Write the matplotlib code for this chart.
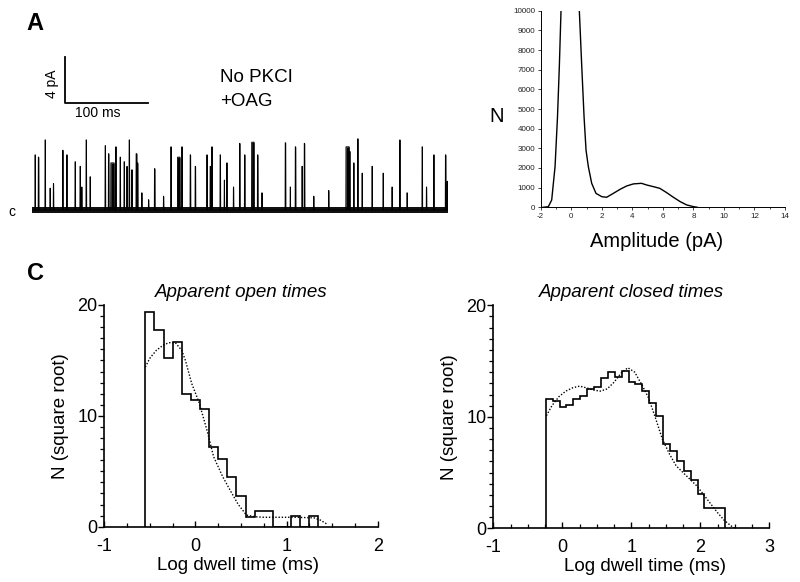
import numpy as np
import matplotlib.pyplot as plt
from matplotlib.ticker import MultipleLocator

plt.rcParams['font.family'] = ['Liberation Sans', 'DejaVu Sans']
plt.rcParams['axes.unicode_minus'] = False

# panel A: openings (start ms, amplitude pA, duration ms)
event_t = [3.2, 7.2, 15.3, 21.3, 25.3, 36.5, 41.4, 51.4, 57.4, 59.4, 64.7, 69.5,
           87.6, 91.6, 94.5, 100.4, 105.6, 110.4, 113.7, 116.5, 119.7, 124.9, 126.5,
           131.7, 139.8, 147.0, 157.8, 166.7, 174.8, 179.9, 190.0, 196.0, 210.0,
           214.0, 216.0, 226.0, 231.0, 234.0, 242.0, 249.4, 255.4, 264.0, 271.0,
           276.3, 304.4, 310.4, 316.5, 324.5, 327.3, 338.6, 356.6, 377.5, 381.9,
           386.7, 391.6, 396.8, 408.8, 422.1, 432.9, 442.2, 451.0, 469.1, 474.3,
           483.1, 497.2, 499.2]
event_amp = [4.8, 4.6, 6.1, 1.9, 2.3, 5.2, 4.8, 4.2, 3.8, 2.0, 6.1, 2.9,
             5.6, 4.9, 4.1, 5.5, 4.6, 4.2, 3.8, 6.1, 3.5, 4.9, 4.1,
             1.5, 0.9, 3.6, 1.2, 5.5, 4.6, 5.5, 4.8, 3.8, 4.8,
             3.8, 5.5, 4.8, 2.6, 4.1, 2.0, 5.8, 4.8, 5.9, 4.8,
             1.5, 5.85, 2.0, 5.5, 3.8, 5.8, 1.2, 1.7, 5.5, 5.1,
             4.1, 6.2, 3.2, 3.8, 3.2, 2.0, 6.1, 1.5, 5.5, 2.0,
             4.8, 4.8, 2.5]
event_dur = [0.6, 0.6, 0.6, 0.4, 0.4, 0.6, 0.6, 0.6, 0.6, 0.4, 0.6, 0.4,
             0.6, 0.6, 4.0, 0.6, 0.6, 0.6, 0.6, 0.6, 0.6, 1.0, 0.6,
             0.4, 0.4, 0.6, 0.4, 0.6, 3.0, 0.6, 0.6, 0.6, 0.6,
             0.6, 0.6, 0.6, 0.4, 0.6, 0.4, 0.6, 0.6, 3.0, 0.6,
             0.4, 0.6, 0.4, 0.6, 0.6, 0.6, 0.4, 0.4, 4.0, 0.6,
             0.6, 0.6, 0.6, 0.6, 0.6, 0.4, 0.6, 0.4, 0.6, 0.4,
             0.6, 0.6, 0.4]

# panel B: all-points amplitude histogram
amp_x = [-1.85, -1.5, -1.28, -1.06, -0.9, -0.78, -0.67, -0.3, 0.0, 0.3, 0.53, 0.69,
         0.84, 0.97, 1.12, 1.34, 1.62, 2.0, 2.32, 2.76, 3.2, 3.63, 4.07, 4.6, 4.94,
         5.38, 5.8, 6.25, 6.69, 7.13, 7.56, 8.0, 8.26]
amp_n = [0, 30, 370, 2070, 4600, 7150, 10000, 40000, 60000, 40000, 10000, 7150,
         4600, 2900, 2070, 1220, 710, 540, 510, 710, 915, 1085, 1190, 1220, 1135,
         1050, 965, 745, 510, 290, 120, 35, 0]

# panel C: dwell time histograms (square root of counts, 0.1 log-unit bins)
open_edges = np.round(np.arange(-0.55, 1.36, 0.1), 2)
open_sqrt_n = [19.4, 17.75, 15.2, 16.7, 12.0, 11.4, 10.6, 7.2, 6.1, 4.5, 2.8, 0.9,
               1.4, 1.4, 0, 0, 1.0, 0, 1.0]
open_fit_x = [-0.55, -0.5, -0.43, -0.35, -0.29, -0.22, -0.15, -0.11, -0.04, 0.04,
              0.13, 0.2, 0.3, 0.38, 0.47, 0.56, 0.65, 0.75, 0.9, 1.1, 1.3, 1.37, 1.44]
open_fit_y = [14.4, 15.2, 15.9, 16.4, 16.6, 16.6, 15.9, 15.0, 12.9, 11.2,
              8.6, 6.3, 4.5, 3.3, 2.0, 1.05, 0.9, 0.85, 0.85, 0.85, 0.8, 0.6, 0.25]

closed_edges = np.round(np.arange(-0.24, 2.37, 0.1), 2)
closed_sqrt_n = [11.6, 11.4, 10.9, 11.1, 11.6, 11.9, 12.5, 12.7, 13.5, 14.0, 13.6,
                 14.1, 13.1, 12.9, 12.3, 11.2, 10.1, 7.6, 6.9, 6.0, 5.1, 4.3, 3.1,
                 1.8, 1.8, 1.8]
closed_fit_x = [-0.23, -0.15, -0.05, 0.05, 0.15, 0.25, 0.35, 0.45, 0.55, 0.65, 0.75,
                0.85, 0.95, 1.05, 1.15, 1.25, 1.35, 1.45, 1.55, 1.65, 1.75, 1.85,
                1.95, 2.05, 2.15, 2.25, 2.35, 2.45, 2.5]
closed_fit_y = [10.1, 11.0, 11.8, 12.3, 12.6, 12.75, 12.6, 12.4, 12.3, 12.5, 13.1,
                13.9, 14.4, 14.0, 12.9, 11.7, 9.9, 8.0, 6.7, 5.6, 5.0, 4.4, 3.8,
                3.0, 2.2, 1.4, 0.7, 0.2, 0.0]

W, H = 800, 582
fig = plt.figure(figsize=(W / 100, H / 100), dpi=100)


def box(x0, y0, x1, y1):
    # pixel box (top-left origin) -> figure fraction rect
    return [x0 / W, 1 - y1 / H, (x1 - x0) / W, (y1 - y0) / H]


def ftext(x, y, s, **kw):
    fig.text(x / W, 1 - y / H, s, **kw)


# ---- A: trace
axA = fig.add_axes(box(32.3, 40, 447.7, 230))
t = np.arange(0, 500, 0.1)
trace = np.zeros_like(t)
for s, a, d in zip(event_t, event_amp, event_dur):
    trace[(t >= s) & (t < s + d)] = a
axA.fill_between([0, 500], -0.3, 0.3, color='#111111', lw=0)
axA.fill_between(t, 0, trace, color='black', lw=0)
axA.plot(t, trace, color='black', lw=0.7)
axA.plot([39.4, 39.4, 139.4], [13.3, 9.3, 9.3], color='black', lw=1.3)
axA.set_xlim(0, 500)
axA.set_ylim(-1.74, 14.8)
axA.axis('off')

ftext(35, 24, 'A', fontsize=17, fontweight='bold', ha='center', va='center')
ftext(52, 84, '4 pA', fontsize=10, rotation=90, ha='center', va='center')
ftext(98, 113, '100 ms', fontsize=10, ha='center', va='center')
ftext(220, 78, 'No PKCI', fontsize=13.5, ha='left', va='center')
ftext(220, 101, '+OAG', fontsize=13.5, ha='left', va='center')
ftext(12, 212, 'c', fontsize=10, ha='center', va='center')

# ---- B: amplitude histogram
axB = fig.add_axes(box(540.7, 10.7, 785, 207.3))
axB.plot(amp_x, amp_n, color='black', lw=1.0)
axB.set_xlim(-2, 14)
axB.set_ylim(0, 10000)
axB.set_xticks(range(-2, 15, 2))
axB.set_yticks(range(0, 10001, 1000))
axB.xaxis.set_minor_locator(MultipleLocator(1))
axB.tick_params(labelsize=5.8, length=2.5, width=0.6, pad=1.5, colors='#222222')
axB.tick_params(which='minor', length=1.5, width=0.5)
for side in ['top', 'right']:
    axB.spines[side].set_visible(False)
for side in ['left', 'bottom']:
    axB.spines[side].set_linewidth(0.7)
ftext(497, 116, 'N', fontsize=14.5, ha='center', va='center')
ftext(657, 241, 'Amplitude (pA)', fontsize=14.5, ha='center', va='center')


# ---- C: dwell time histograms
def dwell(ax, edges, vals, fx, fy, xmax, title, xlab_x):
    ax.stairs(vals, edges, baseline=0, color='black', lw=1.2)
    ax.plot(fx, fy, color='black', lw=1.0, linestyle=(0, (1, 1.3)))
    ax.set_xlim(-1, xmax)
    ax.set_ylim(0, 20)
    ax.set_xticks(range(-1, xmax + 1))
    ax.set_yticks([0, 10, 20])
    ax.xaxis.set_minor_locator(MultipleLocator(0.25))
    ax.yaxis.set_minor_locator(MultipleLocator(1))
    ax.tick_params(labelsize=13, width=1.0, colors='black')
    ax.tick_params(axis='x', direction='in', length=4, pad=8)
    ax.tick_params(axis='x', which='minor', direction='in', length=3, width=0.9)
    ax.tick_params(axis='y', direction='out', length=4, pad=1)
    ax.tick_params(axis='y', which='minor', direction='out', length=3, width=0.9)
    for side in ['top', 'right']:
        ax.spines[side].set_visible(False)
    for side in ['left', 'bottom']:
        ax.spines[side].set_linewidth(1.2)
    ax.set_xlabel('Log dwell time (ms)', fontsize=13.5)
    ax.xaxis.set_label_coords(xlab_x, -0.135)
    ax.set_ylabel('N (square root)', fontsize=13.5, labelpad=6)
    ax.set_title(title, fontsize=13.5, style='italic', pad=6)


axC1 = fig.add_axes(box(104.3, 305, 377.7, 526.7))
dwell(axC1, open_edges, open_sqrt_n, open_fit_x, open_fit_y, 2,
      'Apparent open times', 0.49)
axC2 = fig.add_axes(box(493.3, 305.3, 769.3, 528.3))
dwell(axC2, closed_edges, closed_sqrt_n, closed_fit_x, closed_fit_y, 3,
      'Apparent closed times', 0.55)

ftext(35, 274, 'C', fontsize=17, fontweight='bold', ha='center', va='center')

fig.savefig('out.png', dpi=100)
